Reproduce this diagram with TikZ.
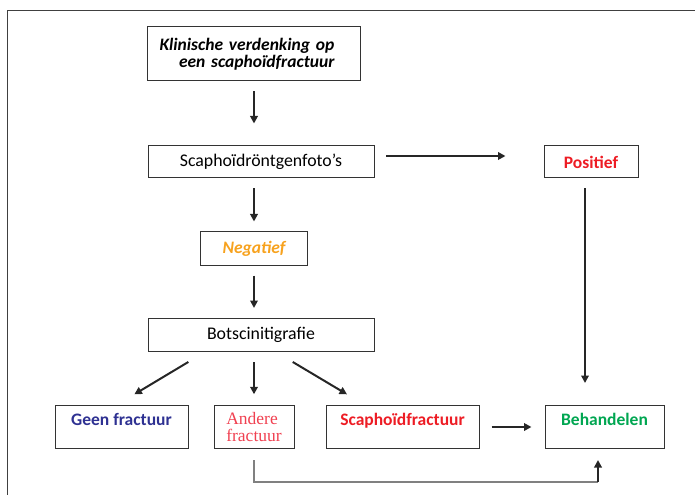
\documentclass[tikz,border=0pt]{standalone}
\usepackage{fontspec}
\setmainfont{Carlito}
\newfontfamily\serieffont{Liberation Serif}
\usetikzlibrary{arrows.meta}

\definecolor{geenblauw}{RGB}{46,49,146}
\definecolor{posrood}{RGB}{237,28,36}
\definecolor{androod}{RGB}{240,64,80}
\definecolor{negoranje}{RGB}{247,162,30}
\definecolor{behgroen}{RGB}{0,166,81}

\begin{document}
\begin{tikzpicture}[x=1bp, y=-1bp,
		box/.style={draw=black!80, line width=1bp, inner sep=0pt, font=\fontsize{17.8bp}{17bp}\selectfont},
		boventekst/.style={text height=20bp, text depth=23bp},
		pijl/.style={draw=black!85, line width=2bp, -{Triangle[length=7.5bp,width=7.5bp]}},
		grijs/.style={draw=black!50, line width=1.4bp},
		rand/.style={draw=black!75, line width=1bp}]
			\useasboundingbox (0,0) rectangle (695,495);
			\draw[rand] (7.5,495) -- (7.5,10.5) -- (695,10.5);
			
			\node[box, minimum width=213bp, minimum height=54bp, text width=189bp, align=left, font=\fontsize{17.5bp}{17bp}\selectfont\bfseries\itshape] (klin) at (254,54) {Klinische verdenking op\\\hspace{19.5bp}een scaphoïdfractuur};
			\node[box, minimum width=226bp, minimum height=32bp] (foto) at (261,162) {Scaphoïdröntgenfoto’s};
			\node[box, minimum width=94bp, minimum height=32bp, text=posrood, font=\fontsize{17.5bp}{17bp}\selectfont\bfseries] (pos) at (591,162) {Positief};
			\node[box, minimum width=107bp, minimum height=33bp, text=negoranje, font=\fontsize{17.5bp}{17bp}\selectfont\bfseries\itshape] (neg) at (254,248.5) {Negatief};
			\node[box, minimum width=226bp, minimum height=33bp] (bots) at (261,335) {Botscinitigrafie};
			
			\node[box, boventekst, minimum width=133bp, text=geenblauw, font=\fontsize{17.5bp}{17bp}\selectfont\bfseries] (geen) at (121.5,427) {Geen fractuur};
			\node[box, minimum width=80bp, minimum height=43bp, align=left, text=androod, font=\fontsize{17.5bp}{17bp}\serieffont] (andere) at (254,427) {Andere\\fractuur};
			\node[box, boventekst, minimum width=153bp, text=posrood, font=\fontsize{17.5bp}{17bp}\selectfont\bfseries] (scaf) at (402.5,427) {Scaphoïdfractuur};
			\node[box, boventekst, minimum width=119bp, text=behgroen, font=\fontsize{17.5bp}{17bp}\selectfont\bfseries] (beh) at (604.5,427) {Behandelen};
			\coordinate (hoek) at ([xshift=-6.5bp, yshift=-33bp]beh.south);
			
			\draw[pijl, shorten <=10bp, shorten >=22bp] (klin.south) -- (klin.south |- foto.north);
			\draw[pijl, shorten <=11.5bp, shorten >=38bp] ([yshift=6bp]foto.east) -- ([yshift=6bp]foto.east -| pos.west);
			\draw[pijl, shorten <=10bp, shorten >=10bp] (foto.south -| neg.north) -- (neg.north);
			\draw[pijl, shorten <=10bp, shorten >=10bp] (neg.south) -- (neg.south |- bots.north);
			\draw[pijl, shorten <=19.4bp, shorten >=20.8bp] ([xshift=-56bp]bots.south) -- ([xshift=-5bp]geen.north);
			\draw[pijl, shorten <=10bp, shorten >=10.7bp] (bots.south -| andere.north) -- (andere.north);
			\draw[pijl, shorten <=19.5bp, shorten >=20.8bp] ([xshift=15bp]bots.south) -- ([xshift=-37.6bp]scaf.north);
			\draw[pijl, shorten <=12bp, shorten >=13bp] (scaf.east) -- (beh.west);
			\draw[pijl, shorten <=10bp, shorten >=22bp] ([xshift=-6bp]pos.south) -- ([xshift=-6bp]pos.south |- beh.north);
			\draw[grijs, shorten <=11bp] (andere.south) |- (hoek);
			\draw[pijl, shorten >=11bp] (hoek) -- (hoek |- beh.south);
\end{tikzpicture}
\end{document}
